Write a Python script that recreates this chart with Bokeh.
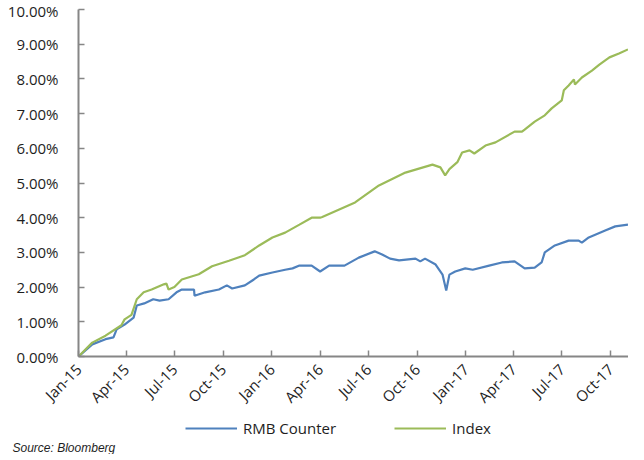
import pandas as pd
from math import pi
from bokeh.plotting import figure
from bokeh.layouts import column
from bokeh.models import (Legend, LegendItem, NumeralTickFormatter, DatetimeTickFormatter,
                          MonthsTicker, SingleIntervalTicker, Range1d, Title)
from bokeh.embed import file_html
from bokeh.resources import INLINE

# ---- data (values in %) ----
index_dates = ["2015-01-01", "2015-01-27", "2015-02-21", "2015-03-23", "2015-03-29", "2015-04-11",
               "2015-04-21", "2015-05-04", "2015-05-19", "2015-06-11", "2015-06-16", "2015-06-20",
               "2015-07-01", "2015-07-15", "2015-08-16", "2015-09-10", "2015-10-12", "2015-11-11",
               "2015-12-08", "2016-01-02", "2016-01-26", "2016-02-22", "2016-03-16", "2016-04-01",
               "2016-04-05", "2016-06-06", "2016-07-21", "2016-09-09", "2016-10-30", "2016-11-14",
               "2016-11-23", "2016-12-01", "2016-12-16", "2016-12-25", "2017-01-08", "2017-01-17",
               "2017-02-07", "2017-02-26", "2017-04-03", "2017-04-17", "2017-04-22", "2017-05-11",
               "2017-05-30", "2017-06-12", "2017-07-01", "2017-07-05", "2017-07-14", "2017-07-24",
               "2017-07-26", "2017-08-08", "2017-08-27", "2017-09-10", "2017-09-29", "2017-10-17",
               "2017-11-03"]
index_values = [0.00, 0.40, 0.60, 0.90, 1.07, 1.20,
                1.65, 1.85, 1.93, 2.08, 2.10, 1.93,
                2.00, 2.22, 2.37, 2.60, 2.76, 2.92,
                3.20, 3.43, 3.57, 3.80, 4.00, 4.00,
                4.02, 4.44, 4.93, 5.30, 5.53, 5.45,
                5.22, 5.40, 5.60, 5.88, 5.94, 5.85,
                6.08, 6.17, 6.48, 6.48, 6.54, 6.77,
                6.95, 7.15, 7.38, 7.67, 7.81, 7.98,
                7.84, 8.04, 8.24, 8.41, 8.62, 8.73,
                8.85]

rmb_dates = ["2015-01-01", "2015-01-27", "2015-02-21", "2015-03-08", "2015-03-14", "2015-03-29",
             "2015-04-15", "2015-04-21", "2015-05-05", "2015-05-22", "2015-06-03", "2015-06-20",
             "2015-07-05", "2015-07-15", "2015-08-07", "2015-08-08", "2015-08-28", "2015-09-23",
             "2015-10-08", "2015-10-18", "2015-11-11", "2015-11-28", "2015-12-08", "2016-01-02",
             "2016-01-26", "2016-02-09", "2016-02-22", "2016-03-16", "2016-04-01", "2016-04-18",
             "2016-05-17", "2016-06-13", "2016-07-13", "2016-07-27", "2016-08-11", "2016-08-28",
             "2016-09-28", "2016-10-07", "2016-10-16", "2016-11-05", "2016-11-18", "2016-11-25",
             "2016-12-01", "2016-12-12", "2016-12-31", "2017-01-14", "2017-02-14", "2017-03-10",
             "2017-04-03", "2017-04-22", "2017-05-11", "2017-05-24", "2017-05-30", "2017-06-18",
             "2017-07-14", "2017-08-02", "2017-08-08", "2017-08-21", "2017-09-21", "2017-10-10",
             "2017-11-03"]
rmb_values = [0.00, 0.35, 0.50, 0.55, 0.78, 0.92,
              1.12, 1.47, 1.53, 1.65, 1.61, 1.65,
              1.85, 1.93, 1.93, 1.75, 1.85, 1.93,
              2.05, 1.96, 2.05, 2.22, 2.33, 2.42,
              2.50, 2.54, 2.62, 2.62, 2.45, 2.62,
              2.62, 2.85, 3.03, 2.94, 2.82, 2.77,
              2.82, 2.74, 2.82, 2.65, 2.36, 1.90,
              2.36, 2.45, 2.54, 2.50, 2.62, 2.71,
              2.74, 2.54, 2.56, 2.71, 3.00, 3.20,
              3.34, 3.34, 3.28, 3.43, 3.63, 3.75,
              3.80]

series_names = ["RMB Counter", "Index"]
series_colors = ["#4F81BD", "#9BBB59"]
source_text = "Source: Bloomberg"
y_max_pct = 10.0

FONT = "Open Sans"
TEXT = "#1e1e1e"
AXIS = "#868686"

# ---------------- main chart ----------------
p = figure(frame_width=550, frame_height=347, x_axis_type="datetime",
           x_range=Range1d(pd.Timestamp("2015-01-01"), pd.Timestamp("2017-11-04")),
           y_range=Range1d(0, y_max_pct / 100),
           output_backend="svg", toolbar_location=None,
           min_border_left=78, min_border_right=0, min_border_top=9, min_border_bottom=50)

p.line(pd.to_datetime(rmb_dates), [v / 100 for v in rmb_values], line_color=series_colors[0], line_width=2.2)
p.line(pd.to_datetime(index_dates), [v / 100 for v in index_values], line_color=series_colors[1], line_width=2.2)

p.grid.visible = False
p.outline_line_color = None
p.background_fill_color = "white"
p.border_fill_color = "white"

for ax in (p.xaxis[0], p.yaxis[0]):
    ax.axis_line_color = AXIS
    ax.axis_line_width = 2
    ax.major_tick_line_color = AXIS
    ax.major_tick_line_width = 1.5
    ax.major_tick_in = 6
    ax.major_tick_out = 0
    ax.minor_tick_line_color = None
    ax.major_label_text_font = FONT
    ax.major_label_text_font_size = "15px"
    ax.major_label_text_color = TEXT

p.yaxis[0].ticker = SingleIntervalTicker(interval=0.01)
p.yaxis[0].formatter = NumeralTickFormatter(format="0.00%")
p.yaxis[0].major_label_standoff = 16

p.xaxis[0].ticker = MonthsTicker(months=[0, 3, 6, 9])
p.xaxis[0].formatter = DatetimeTickFormatter(months="%b-%y", days="%b-%y", years="%b-%y")
p.xaxis[0].major_label_orientation = pi / 4
p.xaxis[0].major_label_standoff = 10

# ---------------- legend / source strip ----------------
s = figure(width=628, height=38, x_range=Range1d(0, 1), y_range=Range1d(0, 1),
           x_axis_type=None, y_axis_type=None, output_backend="svg", toolbar_location=None,
           min_border=0, min_border_left=0, min_border_right=0, min_border_top=0, min_border_bottom=0)
s.grid.visible = False
s.outline_line_color = None
s.border_fill_color = "white"
s.background_fill_color = "white"

nan = float("nan")
k1 = s.line(x=[nan], y=[nan], line_color=series_colors[0], line_width=2.2)
k2 = s.line(x=[nan], y=[nan], line_color=series_colors[1], line_width=2.2)

legend = Legend(items=[LegendItem(label=series_names[0], renderers=[k1]),
                       LegendItem(label=series_names[1], renderers=[k2])],
                orientation="horizontal", location=(107, 0),
                label_text_font=FONT, label_text_font_size="15px", label_text_color=TEXT,
                glyph_width=52, glyph_height=14, label_standoff=6, spacing=58,
                label_width=0, padding=0, margin=0, border_line_color=None, background_fill_alpha=0)
s.add_layout(legend, "center")

s.add_layout(Title(text=source_text, align="left", offset=-66, standoff=0,
                   text_font="Liberation Sans", text_font_style="italic", text_font_size="12px",
                   text_color=TEXT), "below")

open("out.html", "w").write(file_html(column(p, s, spacing=0), INLINE))
